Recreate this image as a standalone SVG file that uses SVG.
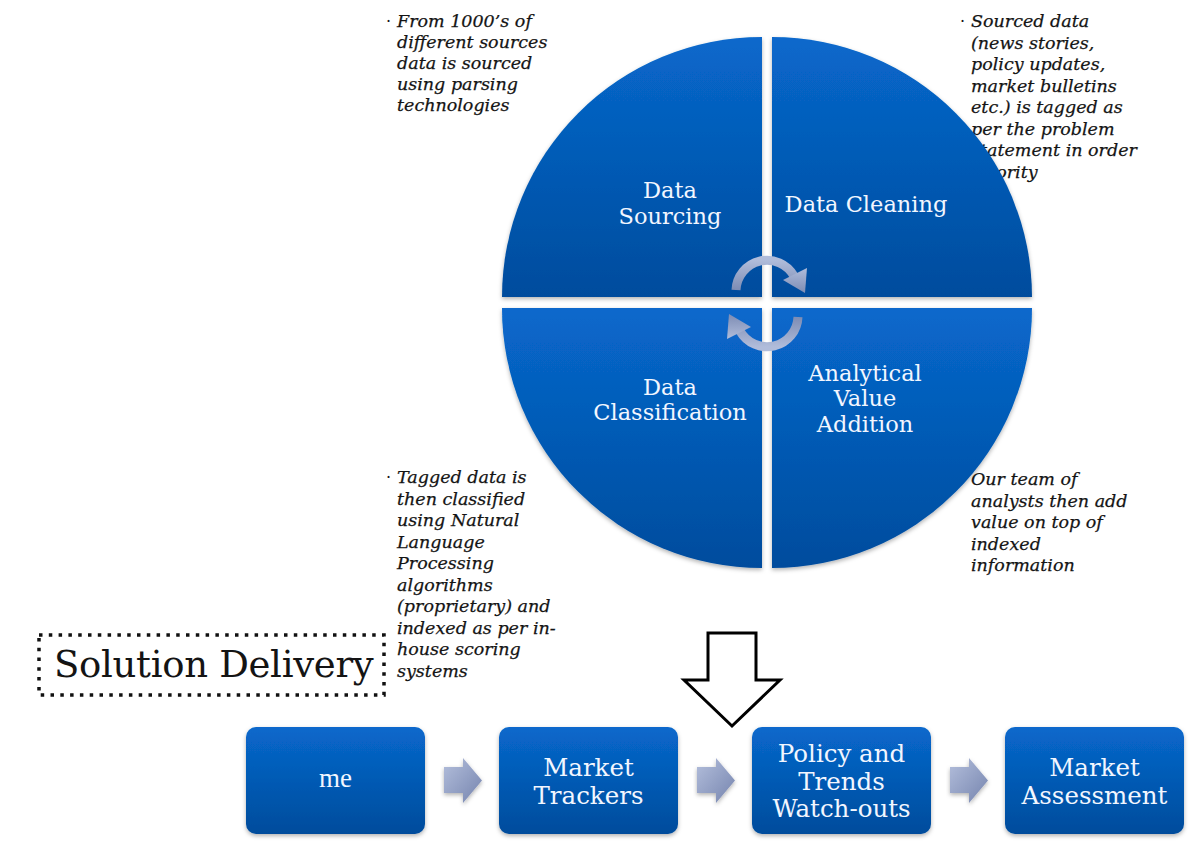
<svg xmlns="http://www.w3.org/2000/svg" width="1200" height="846" viewBox="0 0 1200 846">
  <defs>
    <linearGradient id="quadFill" x1="0" y1="0" x2="0" y2="1">
      <stop offset="0" stop-color="#0868cc"/>
      <stop offset="1" stop-color="#004c9d"/>
    </linearGradient>
    <linearGradient id="boxFill" x1="0" y1="0" x2="0" y2="1">
      <stop offset="0" stop-color="#0868cc"/>
      <stop offset="1" stop-color="#004c9c"/>
    </linearGradient>
    <linearGradient id="stepArrowFill" x1="0" y1="0" x2="1" y2="1">
      <stop offset="0" stop-color="#b4bfdc"/>
      <stop offset="1" stop-color="#7584ae"/>
    </linearGradient>
    <linearGradient id="cycleFill" x1="0" y1="0" x2="0" y2="1">
      <stop offset="0" stop-color="#b0bcda"/>
      <stop offset="1" stop-color="#7d8cb4"/>
    </linearGradient>
    <filter id="softShadow" x="-10%" y="-10%" width="120%" height="130%">
      <feDropShadow dx="0" dy="2" stdDeviation="2" flood-color="#000" flood-opacity="0.3"/>
    </filter>
    <g id="stepArrow">
      <polygon points="0,9 19,9 19,0 38,22.5 19,45 19,35 0,35" fill="url(#stepArrowFill)" filter="url(#softShadow)"/>
    </g>
  </defs>
  <style>
    .note { font-family: "DejaVu Serif", "Liberation Serif", serif; font-style: italic; font-size: 17.5px; fill: #141414; stroke: #141414; stroke-width: 0.25px; }
    .bullet { font-family: "DejaVu Serif", serif; font-size: 16px; fill: #141414; }
    .quadLabel { font-family: "DejaVu Serif", "Liberation Serif", serif; font-size: 22.5px; fill: #f2f6ff; text-anchor: middle; }
    .boxLabel { font-family: "DejaVu Serif", "Liberation Serif", serif; font-size: 24.5px; fill: #f2f6ff; text-anchor: middle; }
    .quad { fill: url(#quadFill); filter: url(#softShadow); }
    .box { fill: url(#boxFill); filter: url(#softShadow); }
  </style>

  <rect width="1200" height="846" fill="#ffffff"/>

  <!-- Annotations (drawn beneath the cycle wheel) -->
  <g id="note-sourcing">
    <text class="bullet" x="386" y="27">·</text>
    <text class="note">
      <tspan x="397" y="27">From 1000’s of</tspan>
      <tspan x="397" y="48">different sources</tspan>
      <tspan x="397" y="69">data is sourced</tspan>
      <tspan x="397" y="90">using parsing</tspan>
      <tspan x="397" y="111">technologies</tspan>
    </text>
  </g>
  <g id="note-cleaning">
    <text class="bullet" x="960" y="27">·</text>
    <text class="note">
      <tspan x="971" y="27">Sourced data</tspan>
      <tspan x="971" y="48.5">(news stories,</tspan>
      <tspan x="971" y="70">policy updates,</tspan>
      <tspan x="971" y="91.5">market bulletins</tspan>
      <tspan x="971" y="113">etc.) is tagged as</tspan>
      <tspan x="971" y="134.5">per the problem</tspan>
      <tspan x="971" y="156">statement in order</tspan>
      <tspan x="971" y="177.5">priority</tspan>
    </text>
  </g>
  <g id="note-classification">
    <text class="bullet" x="386" y="483">·</text>
    <text class="note">
      <tspan x="397" y="483">Tagged data is</tspan>
      <tspan x="397" y="504.5">then classified</tspan>
      <tspan x="397" y="526">using Natural</tspan>
      <tspan x="397" y="547.5">Language</tspan>
      <tspan x="397" y="569">Processing</tspan>
      <tspan x="397" y="590.5">algorithms</tspan>
      <tspan x="397" y="612">(proprietary) and</tspan>
      <tspan x="397" y="633.5">indexed as per in-</tspan>
      <tspan x="397" y="655">house scoring</tspan>
      <tspan x="397" y="676.5">systems</tspan>
    </text>
  </g>
  <g id="note-analysis">
    <text class="note">
      <tspan x="971" y="485">Our team of</tspan>
      <tspan x="971" y="506.5">analysts then add</tspan>
      <tspan x="971" y="528">value on top of</tspan>
      <tspan x="971" y="549.5">indexed</tspan>
      <tspan x="971" y="571">information</tspan>
    </text>
  </g>

  <!-- Cycle wheel: four quadrants -->
  <g id="data-sourcing">
    <path class="quad" d="M762,297 L502,297 A260,260 0 0 1 762,37 Z"/>
    <text class="quadLabel"><tspan x="670" y="198">Data</tspan><tspan x="670" y="224">Sourcing</tspan></text>
  </g>
  <g id="data-cleaning">
    <path class="quad" d="M772,297 L772,37 A260,260 0 0 1 1032,297 Z"/>
    <text class="quadLabel" x="866" y="212">Data Cleaning</text>
  </g>
  <g id="data-classification">
    <path class="quad" d="M762,308 L762,568 A260,260 0 0 1 502,308 Z"/>
    <text class="quadLabel"><tspan x="670" y="395">Data</tspan><tspan x="670" y="420">Classification</tspan></text>
  </g>
  <g id="analytical-value-addition">
    <path class="quad" d="M772,308 L1032,308 A260,260 0 0 1 772,568 Z"/>
    <text class="quadLabel"><tspan x="865" y="381">Analytical</tspan><tspan x="865" y="406">Value</tspan><tspan x="865" y="432">Addition</tspan></text>
  </g>

  <!-- Circular cycle arrows at the hub -->
  <g id="cycle-arrows" fill="url(#cycleFill)">
    <g id="cycle-top">
      <path d="M736,290 A31,31 0 0 1 794,276" fill="none" stroke="url(#cycleFill)" stroke-width="9"/>
      <polygon points="783,280 807,268 805,293"/>
    </g>
    <g transform="rotate(180 767 303.5)">
      <path d="M736,290 A31,31 0 0 1 794,276" fill="none" stroke="url(#cycleFill)" stroke-width="9"/>
      <polygon points="783,280 807,268 805,293"/>
    </g>
  </g>

  <!-- Section heading -->
  <g id="solution-delivery">
    <rect x="39" y="635" width="345" height="60" fill="none" stroke="#111" stroke-width="3.5" stroke-dasharray="3.5 6.3"/>
    <text x="54" y="677" font-family="'DejaVu Serif', 'Liberation Serif', serif" font-size="37" fill="#141414" letter-spacing="-0.3">Solution Delivery</text>
  </g>

  <!-- Delivery pipeline -->
  <g id="delivery-arrow">
    <polygon points="708,633 756,633 756,680 780,680 732,726 684,680 708,680" fill="#ffffff" stroke="#000" stroke-width="3" stroke-linejoin="miter"/>
  </g>

  <g id="box-me">
    <rect class="box" x="246" y="727" width="179" height="107" rx="10"/>
    <text x="335.5" y="787" font-family="'Liberation Serif', serif" font-size="27" fill="#f2f6ff" text-anchor="middle">me</text>
  </g>
  <g id="box-market-trackers">
    <rect class="box" x="499" y="727" width="179" height="107" rx="10"/>
    <text class="boxLabel"><tspan x="588.5" y="776">Market</tspan><tspan x="588.5" y="804">Trackers</tspan></text>
  </g>
  <g id="box-policy-trends">
    <rect class="box" x="752" y="727" width="179" height="107" rx="10"/>
    <text class="boxLabel"><tspan x="841.5" y="762">Policy and</tspan><tspan x="841.5" y="790">Trends</tspan><tspan x="841.5" y="817">Watch-outs</tspan></text>
  </g>
  <g id="box-market-assessment">
    <rect class="box" x="1005" y="727" width="179" height="107" rx="10"/>
    <text class="boxLabel"><tspan x="1094.5" y="776">Market</tspan><tspan x="1094.5" y="804">Assessment</tspan></text>
  </g>

  <g id="connectors">
    <use href="#stepArrow" x="444" y="758"/>
    <use href="#stepArrow" x="697" y="758"/>
    <use href="#stepArrow" x="950" y="758"/>
  </g>
</svg>
